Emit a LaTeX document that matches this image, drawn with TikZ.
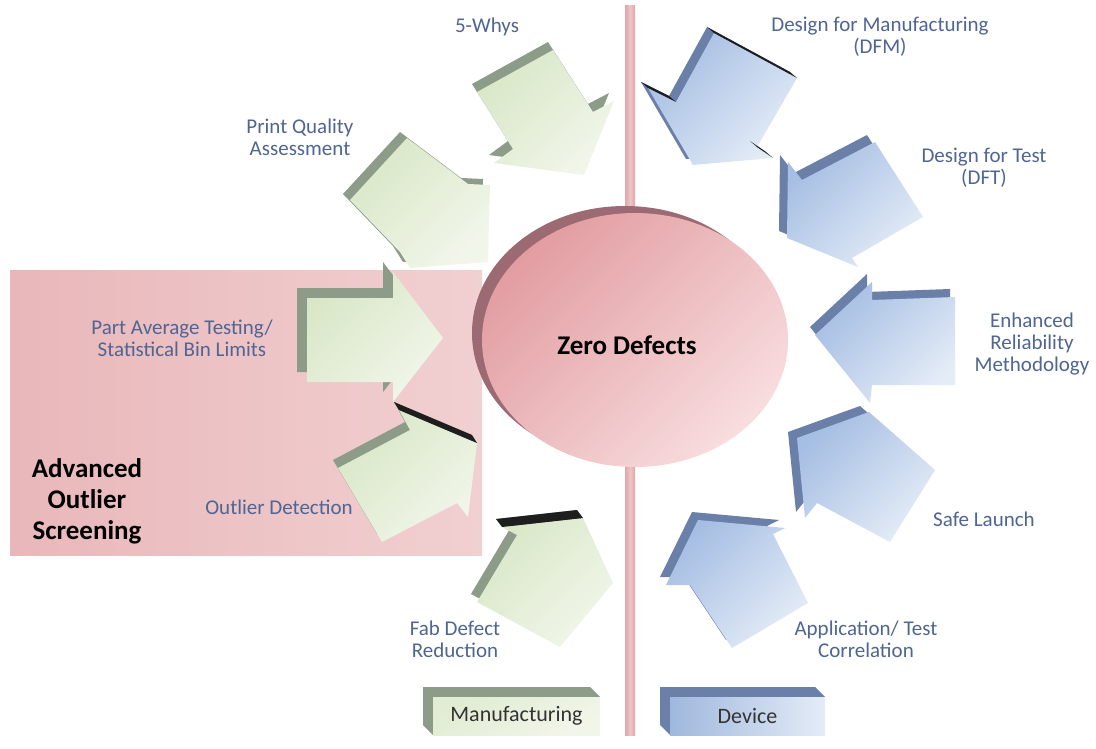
\documentclass[tikz,border=0pt]{standalone}
\usepackage{fontspec}
\setmainfont{Carlito}
\usetikzlibrary{shapes.geometric}

\definecolor{labelblue}{HTML}{4F6592}
\definecolor{greenfaceA}{HTML}{D9E7C7}
\definecolor{greenfaceB}{HTML}{F1F6EA}
\definecolor{greenside}{HTML}{8D9C89}
\definecolor{bluefaceA}{HTML}{A5BEE3}
\definecolor{bluefaceB}{HTML}{E4ECF7}
\definecolor{blueside}{HTML}{6A80A9}
\definecolor{edgeblack}{HTML}{1E1E1E}
\definecolor{zoneA}{HTML}{E9B7BA}
\definecolor{zoneB}{HTML}{F1D0D1}
\definecolor{dividerA}{HTML}{E0A6AA}
\definecolor{dividerB}{HTML}{EEC5C7}
\definecolor{rimcol}{HTML}{9C6A72}
\definecolor{ellA}{HTML}{E29DA1}
\definecolor{ellB}{HTML}{F8DDDF}
\definecolor{boxtext}{HTML}{333333}

% extruded block arrow: shifted side polygon first, shaded face on top
\newcommand\solidarrow[4]{%
  \fill[#2,shift={#3}] #4 -- cycle;
  \shade[#1] #4 -- cycle;}

\begin{document}
\begin{tikzpicture}[x=1pt,y=-1pt,
  lbl/.style={text=labelblue,font=\fontsize{21}{22}\selectfont,align=center,inner sep=0pt},
  zonelbl/.style={text=black,font=\bfseries\fontsize{27}{31}\selectfont,align=center,inner sep=0pt},
  gface/.style={top color=greenfaceA,bottom color=greenfaceB,shading angle=45},
  gside/.style={fill=greenside},
  bface/.style={top color=bluefaceA,bottom color=bluefaceB,shading angle=45},
  bside/.style={fill=blueside},
  blackband/.style={fill=edgeblack},
  boxtxt/.style={text=boxtext,font=\fontsize{22}{24}\selectfont,inner sep=0pt}]

\useasboundingbox (0,0) rectangle (1096,749);
\fill[white] (0,0) rectangle (1096,749);

% screening zone
\shade[left color=zoneA,right color=zoneB] (10,270) rectangle (482,555);

% divider between manufacturing and device sides
\shade[left color=dividerA,right color=dividerA,middle color=dividerB] (625,6) rectangle (635,735);

% ---- manufacturing arrows ----
% 5-Whys
\solidarrow{gface}{gside}{(-5,-8)}{(477,92) -- (553,50) -- (593,112) -- (614,101) -- (584,175) -- (494,163) -- (513,149)}
% Print quality
\solidarrow{gface}{gside}{(-7,-6)}{(350,200) -- (407,138) -- (468,184) -- (490,185) -- (488,262) -- (410,268) -- (400,252)}
% Part average testing
\solidarrow{gface}{gside}{(-10,-10)}{(307,298) -- (393,298) -- (393,272) -- (443,338) -- (393,402) -- (393,382) -- (307,382)}
% Outlier detection
\solidarrow{gface}{gside}{(-5,-8)}{(338,468) -- (410,430) -- (399,410) -- (477,443) -- (468,517) -- (457,503) -- (382,542)}
\fill[blackband] (399,410) -- (477,443) -- (472,435) -- (394,402) -- cycle;
% Fab defect reduction
\solidarrow{gface}{gside}{(-6,-8)}{(502,527) -- (583,518) -- (613,583) -- (560,647) -- (477,602) -- (517,535)}
\fill[blackband] (502,527) -- (583,518) -- (577,510) -- (496,519) -- cycle;

% ---- device arrows ----
% DFM
\solidarrow{bface}{bside}{(-7,-6)}{(714,33) -- (797,78) -- (757,147) -- (773,158) -- (693,165) -- (648,88) -- (676,102)}
\fill[blackband] (714,33) -- (797,78) -- (790,72) -- (707,27) -- cycle;
\fill[blackband] (757,147) -- (773,158) -- (766,152) -- (750,141) -- cycle;
\fill[blackband] (648,88) -- (676,102) -- (669,96) -- (641,82) -- cycle;
% DFT
\solidarrow{bface}{bside}{(-8,-7)}{(802,180) -- (875,142) -- (923,217) -- (852,258) -- (858,267) -- (787,238) -- (788,162)}
% Enhanced reliability
\solidarrow{bface}{bside}{(-5,-8)}{(815,335) -- (872,282) -- (872,300) -- (955,297) -- (955,385) -- (872,385) -- (870,403)}
% Safe launch
\solidarrow{bface}{bside}{(-9,-6)}{(797,438) -- (869,412) -- (935,470) -- (890,542) -- (817,503) -- (805,518)}
% Application / test correlation
\solidarrow{bface}{bside}{(-6,-8)}{(698,520) -- (785,528) -- (773,534) -- (808,603) -- (732,648) -- (690,585) -- (666,585)}

% ---- central goal ----
\fill[rimcol] (625,333) ellipse [x radius=153pt, y radius=127pt];
\node[ellipse,minimum width=306pt,minimum height=254pt,inner sep=0pt,
      top color=ellA,bottom color=ellB,shading angle=45] (zd) at (635,340) {};
\node[font=\bfseries\fontsize{27}{30}\selectfont,inner sep=0pt] (zdtext) at (627,345) {Zero Defects};

% ---- category boxes ----
\fill[gside] (423,687) -- (590,687) -- (600,697) -- (433,697) -- (433,735) -- (423,725) -- cycle;
\node[boxtxt,minimum width=167pt,minimum height=38pt,top color=greenfaceA!80!white,bottom color=greenfaceB,shading angle=30] (mfg) at (516.5,716) {Manufacturing};
\fill[bside] (660,687) -- (815,687) -- (825,697) -- (670,697) -- (670,735) -- (660,725) -- cycle;
\node[boxtxt,minimum width=155pt,minimum height=38pt,left color=bluefaceA!90!blueside,right color=bluefaceB] (dev) at (747.5,716) {Device};

% ---- labels ----
\node[lbl] (l5why) at (487,27) {5-Whys};
\node[lbl] (lpqa) at (300,137) {Print Quality\\Assessment};
\node[lbl] (lpat) at (182,338) {Part Average Testing/\\Statistical Bin Limits};
\node[lbl] (lod) at (279,507) {Outlier Detection};
\node[lbl] (lfab) at (455,639) {Fab Defect\\Reduction};
\node[lbl] (ldfm) at (880,37) {Design for Manufacturing\\(DFM)};
\node[lbl] (ldft) at (984,168) {Design for Test\\(DFT)};
\node[lbl] (lerm) at (1032,344) {Enhanced\\Reliability\\Methodology};
\node[lbl] (lsafe) at (984,519) {Safe Launch};
\node[lbl] (lapp) at (866,639) {Application/ Test\\Correlation};
\node[zonelbl] (laos) at (87,501) {Advanced\\Outlier\\Screening};
\end{tikzpicture}
\end{document}
